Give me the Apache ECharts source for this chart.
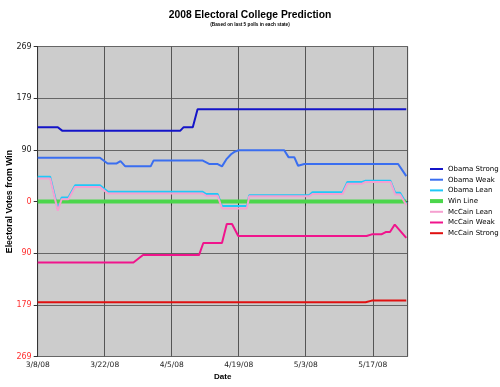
<!DOCTYPE html>
<html><head><meta charset="utf-8">
<script src="https://cdn.jsdelivr.net/npm/echarts@6/dist/echarts.min.js"></script>
<style>html,body{margin:0;padding:0;background:#fff}#c{width:500px;height:387px}</style>
</head><body><div id="c"></div>
<script>
// x values are days since 3/8/08
const startDate = [2008, 3, 8];
const xTickStep = 14;
const yTickValues = [269, 179, 90, 0, 90, 179, 269];
const seriesNames = ['Obama Strong','Obama Weak','Obama Lean','Win Line','McCain Lean','McCain Weak','McCain Strong'];
const obamaStrong = [[0,129],[4.2,129],[5.1,123],[29.8,123],[30.5,129],[32.4,129],[33.4,160],[77,160]];
const obamaWeak = [[0,76],[13,76],[14.6,66],[16.5,66],[17.3,70],[18.3,61],[23.6,61],[24.2,71],[34.5,71],[35.9,65],[37.6,65],[38.5,61],[39.4,73],[40.4,82],[41.1,86],[42,89],[51.5,89],[52.4,77],[53.6,77],[54.4,62],[55.7,65],[75.3,65],[77,44]];
const obamaLean = [[0,43],[2.6,43],[4.2,-12],[5,7],[6.4,7],[7.8,28],[13,28],[14.7,17],[34.4,17],[35.2,13],[37.6,13],[38.5,-8],[43.7,-8],[44.2,11],[56.7,11],[57.4,16],[63.7,16],[64.7,34],[67.8,34],[68.5,36],[73.7,36],[74.7,15],[75.7,15],[77,-3]];
const winLine = [[0,0],[77,0]];
const mccainLean = [[0,40],[2.6,40],[4.2,-16],[5,4],[6.4,4],[7.8,25],[13,25],[14.7,14],[34.4,14],[35.2,10],[37.6,10],[38.5,-12],[43.7,-12],[44.2,9],[56.7,9],[57.4,13],[63.7,13],[64.7,31],[67.8,31],[68.5,34],[73.7,34],[74.7,12],[75.7,12],[77,-6]];
const mccainWeak = [[0,-106],[20,-106],[22,-93],[33.7,-93],[34.6,-72],[38.5,-72],[39.5,-39],[40.6,-39],[41.9,-60],[68.7,-60],[69.8,-57],[71.8,-57],[72.7,-53],[73.6,-53],[74.6,-40],[77,-63]];
const mccainStrong = [[0,-175],[68.5,-175],[69.8,-172],[77,-172]];

const colors = ['#1414c8','#3a6ef0','#1ec8f8','#4cd64c','#f5a0d0','#f0148c','#e01010'];
const widths = [2,2,2,4,2,2,2];
const datas = [obamaStrong, obamaWeak, obamaLean, winLine, mccainLean, mccainWeak, mccainStrong];

function dayLabel(v){
  if (Math.abs(v - Math.round(v/xTickStep)*xTickStep) > 0.01) return '';
  const d = new Date(startDate[0], startDate[1]-1, startDate[2] + Math.round(v));
  return (d.getMonth()+1) + '/' + d.getDate() + '/' + String(d.getFullYear()).slice(2);
}
const FONT = 'DejaVu Sans';
const BFONT = 'Liberation Sans';
const legendTop = 164, legendStep = 10.7;
function makeLegend(from, to){
  return {
    orient: 'vertical', left: 430, top: legendTop + from*legendStep, padding: 0,
    itemWidth: 13, itemHeight: widths[from], itemGap: 0.7, icon: 'rect',
    textStyle: {fontFamily: FONT, fontSize: 7, color: '#000', lineHeight: 10},
    data: seriesNames.slice(from, to)
  };
}
const chart = echarts.init(document.getElementById('c'));
chart.setOption({
  animation: false,
  backgroundColor: '#fff',
  title: {
    text: '2008 Electoral College Prediction',
    subtext: '(Based on last 5 polls in each state)',
    left: 'center', top: 9, itemGap: 1, padding: 0,
    textStyle: {fontFamily: BFONT, fontWeight: 'bold', fontSize: 10.3, color: '#000', lineHeight: 12},
    subtextStyle: {fontFamily: BFONT, fontWeight: 'bold', fontSize: 4.7, color: '#000', lineHeight: 6}
  },
  legend: [makeLegend(0,3), makeLegend(3,4), makeLegend(4,7)],
  grid: {left: 37.7, right: 92.3, top: 46.5, bottom: 30.5, show: true, containLabel: false, outerBoundsMode: 'none',
    backgroundColor: '#cccccc', borderColor: '#999', borderWidth: 1},
  xAxis: {
    type: 'value', min: 0, max: 77.3, interval: xTickStep,
    name: 'Date', nameLocation: 'middle', nameGap: 16, nameMoveOverlap: false,
    nameTextStyle: {fontFamily: BFONT, fontWeight: 'bold', fontSize: 8, color: '#000'},
    axisLine: {show: true, lineStyle: {color: '#333', width: 1}},
    axisTick: {show: true, length: 4, lineStyle: {color: '#333'}},
    axisLabel: {fontFamily: FONT, fontSize: 7.5, color: '#222', margin: 5, formatter: dayLabel, showMaxLabel: false},
    splitLine: {show: true, lineStyle: {color: '#555', width: 1}}
  },
  yAxis: {
    type: 'value', min: -269, max: 269, interval: 269/3,
    name: 'Electoral Votes from Win', nameLocation: 'middle', nameGap: 24, nameMoveOverlap: false,
    nameTextStyle: {fontFamily: BFONT, fontWeight: 'bold', fontSize: 8.8, color: '#000'},
    axisLine: {show: true, lineStyle: {color: '#333', width: 1}},
    axisTick: {show: true, length: 4, lineStyle: {color: '#333'}},
    axisLabel: {fontFamily: FONT, fontSize: 8, margin: 6,
      formatter: function(v){ const t = Math.round(Math.abs(v)); return v > 0.5 ? '{p|' + t + '}' : '{n|' + t + '}'; },
      rich: {p: {color: '#222', fontFamily: FONT, fontSize: 8}, n: {color: '#ff3030', fontFamily: FONT, fontSize: 8}}},
    splitLine: {show: true, lineStyle: {color: '#666', width: 1}}
  },
  series: seriesNames.map((n, i) => ({
    name: n, type: 'line', data: datas[i], symbol: 'none', color: colors[i],
    lineStyle: {color: colors[i], width: widths[i]}, z: 2 + i
  }))
});
</script></body></html>
